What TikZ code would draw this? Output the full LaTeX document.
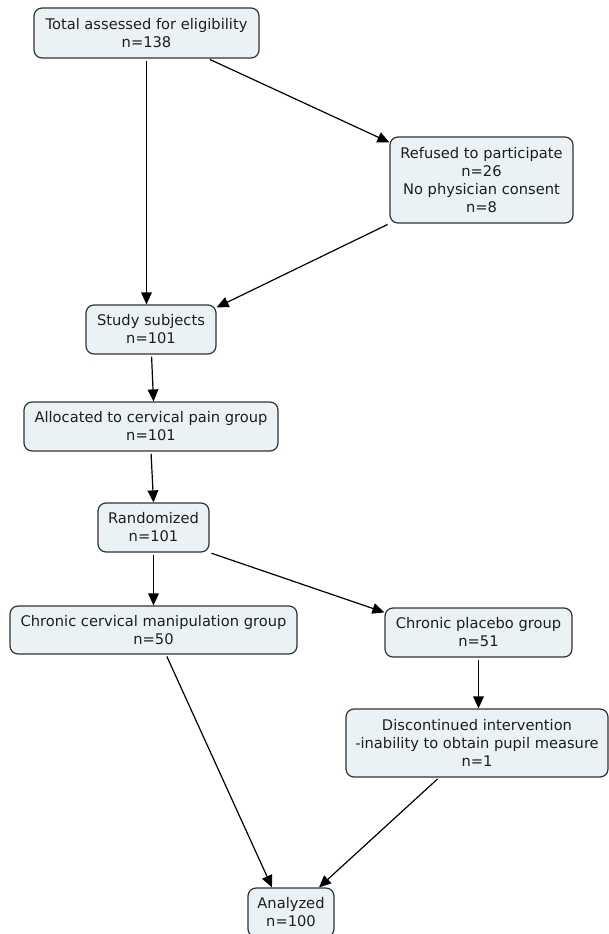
\documentclass[tikz,border=0pt]{standalone}
\usepackage{fontspec}
\setmainfont{DejaVu Sans}
\usepackage{tikz}
\usetikzlibrary{arrows.meta}
\usetikzlibrary{calc}

\begin{document}
\begin{tikzpicture}[x=0.75pt,y=-0.75pt,->,>={Triangle[length=9pt,width=8pt]},shorten <=1.5pt,
	line width=0.9pt,
	flow box/.style 2 args={rectangle,rounded corners=6pt,draw=boxline,fill=boxfill,text=boxtext,
		align=center,inner sep=0pt,minimum width=#1*0.75pt,minimum height=#2*0.75pt,
		font=\fontsize{11}{13.5}\selectfont}]

	\definecolor{boxfill}{RGB}{234,242,245}
	\definecolor{boxline}{RGB}{50,50,50}
	\definecolor{boxtext}{RGB}{30,30,30}

	\useasboundingbox (0,0) rectangle (609,934);

	\node[flow box={225}{50}] (total) at (146.5,33) {Total assessed for eligibility\\n=138};
	\node[flow box={183}{86}] (refused) at (481.5,180) {Refused to participate\\n=26\\No physician consent\\n=8};
	\node[flow box={130}{49}] (study) at (151,329.5) {Study subjects\\n=101};
	\node[flow box={254}{49}] (alloc) at (151,426.5) {Allocated to cervical pain group\\n=101};
	\node[flow box={111}{49}] (random) at (153.5,527.5) {Randomized\\n=101};
	\node[flow box={287}{48}] (manip) at (153.5,630) {Chronic cervical manipulation group\\n=50};
	\node[flow box={187}{49}] (placebo) at (478.5,632.5) {Chronic placebo group\\n=51};
	\node[flow box={262}{68}] (discont) at (477,743) {Discontinued intervention\\-inability to obtain pupil measure\\n=1};
	\node[flow box={86}{49}] (analyzed) at (291,912.5) {Analyzed\\n=100};

	\path
	(total.south) edge (total.south |- study.north)
	($(total.south)+(61.5,0)$) edge ($(refused.north west)+(0,6)$)
	(refused.south west) edge ($(study.north east)+(0,3)$)
	($(study.south)+(0.5,0)$) edge ($(alloc.north)+(2.5,0)$)
	(alloc.south) edge (random.north)
	(random.south) edge (manip.north)
	(random.south east) edge ($(placebo.north west)+(0,5)$)
	(placebo.south) edge (placebo.south |- discont.north)
	($(manip.south)+(12.5,0)$) edge ($(analyzed.north)+(-19,0)$)
	($(discont.south)+(-38,0)$) edge ($(analyzed.north)+(28,0)$);
\end{tikzpicture}
\end{document}
